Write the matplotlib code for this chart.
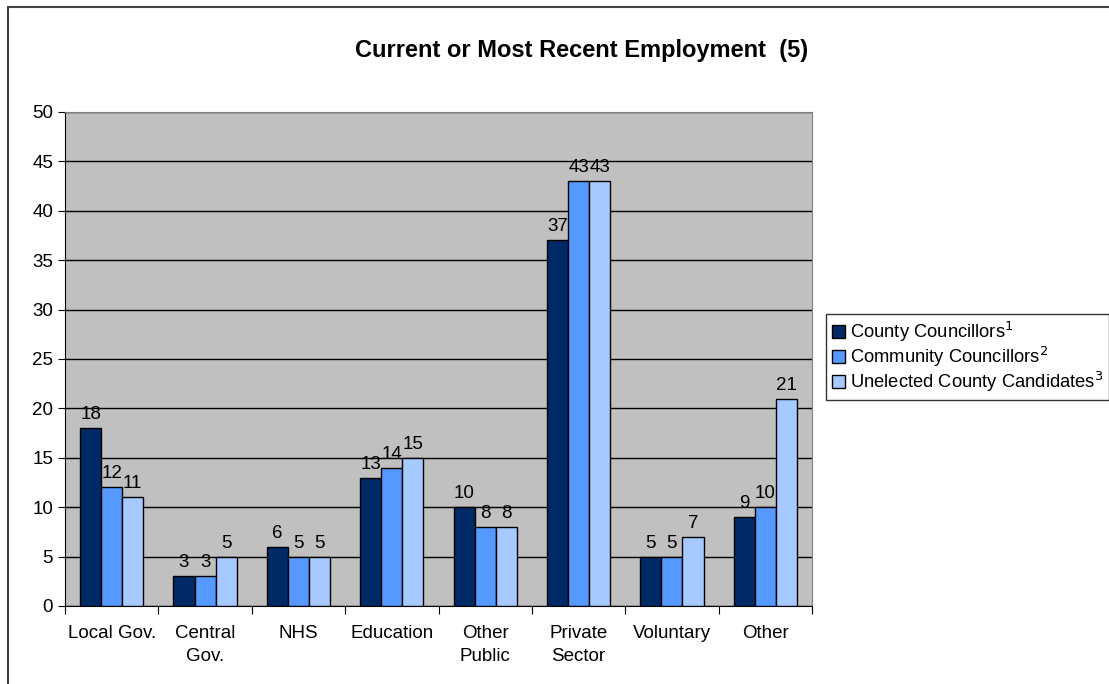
import numpy as np
import matplotlib.pyplot as plt
from matplotlib.patches import Rectangle

plt.rcParams['font.family'] = ['Liberation Sans', 'DejaVu Sans']

categories = ['Local Gov.', 'Central\nGov.', 'NHS', 'Education', 'Other\nPublic',
              'Private\nSector', 'Voluntary', 'Other']
county = [18, 3, 6, 13, 10, 37, 5, 9]
community = [12, 3, 5, 14, 8, 43, 5, 10]
unelected = [11, 5, 5, 15, 8, 43, 7, 21]
series_labels = ['County Councillors$^1$', 'Community Councillors$^2$',
                 'Unelected County Candidates$^3$']
colors = ['#002A66', '#5599FF', '#A6CAFF']

fig = plt.figure(figsize=(11.09, 6.84), dpi=100)
ax = fig.add_axes([65/1109, 1-606/684, (812-65)/1109, (606-112)/684])
ax.set_facecolor('#C0C0C0')

x = np.arange(len(categories))
w = 0.226
for i, (vals, c, lab) in enumerate(zip([county, community, unelected], colors, series_labels)):
    pos = x + (i - 1) * w
    ax.bar(pos, vals, w, color=c, edgecolor='black', linewidth=1, label=lab, zorder=3)
    for p, v in zip(pos, vals):
        ax.text(p, v + 0.5, str(v), ha='center', va='bottom', fontsize=13.5, zorder=4)

ax.set_xlim(-0.5, len(categories) - 0.5)
ax.set_ylim(0, 50)
ax.set_yticks(range(0, 51, 5))
ax.yaxis.grid(True, color='black', linewidth=1)
ax.set_axisbelow(True)
ax.set_xticks(np.arange(-0.5, len(categories), 1))
ax.set_xticklabels([])
ax.set_xticks(x, minor=True)
ax.set_xticklabels(categories, minor=True, fontsize=13.5, linespacing=1.4)
ax.tick_params(axis='x', which='minor', length=0, pad=14)
ax.tick_params(axis='x', which='major', length=6, color='black')
ax.tick_params(axis='y', labelsize=13.5, length=5)
for s in ['top', 'right']:
    ax.spines[s].set_color('#808080')
for s in ['left', 'bottom']:
    ax.spines[s].set_color('black')

fig.text(582/1109, 1-51/684, 'Current or Most Recent Employment  (5)', ha='center',
         va='center', fontsize=17, fontweight='bold')

leg = fig.legend(loc='center left', bbox_to_anchor=(826/1109, 1-357/684), fontsize=13.2,
                 frameon=True, fancybox=False, edgecolor='black', handlelength=0.75,
                 handleheight=0.75, handletextpad=0.25, borderpad=0.3, labelspacing=0.05,
                 borderaxespad=0)
leg.get_frame().set_linewidth(1)

fig.add_artist(Rectangle((8/1109, -0.1), 1.2, 1-7/684 + 0.1, transform=fig.transFigure,
                         fill=False, edgecolor='#404040', linewidth=1.5))

fig.savefig('out.png', dpi=100)
